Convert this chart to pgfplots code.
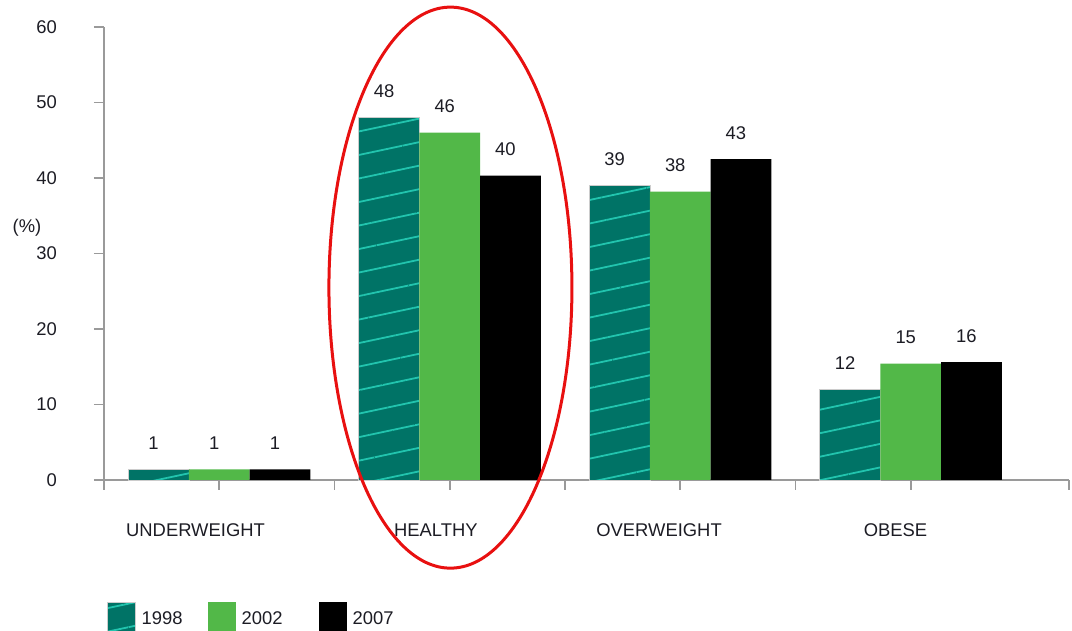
\documentclass[border=0pt]{standalone}
\usepackage{pgfplots}
\pgfplotsset{compat=1.18}
\usepackage{fontspec}
\setmainfont{Liberation Sans}
\usetikzlibrary{patterns.meta}

\definecolor{tealbar}{HTML}{007366}
\definecolor{tealline}{HTML}{22C4AE}
\definecolor{greenbar}{HTML}{52B848}
\definecolor{axisgray}{HTML}{9A9A9A}
\definecolor{txt}{HTML}{1C1C24}
\definecolor{ringred}{HTML}{E81010}

\begin{document}
\begin{tikzpicture}
\begin{axis}[
  at={(0,0)}, anchor=south west,
  scale only axis,
  width=482.5pt, height=226.5pt,
  xmin=-0.5, xmax=3.6866,
  ymin=0, ymax=60,
  clip=false,
  ybar=0pt, bar width=0.2633,
  axis x line=bottom, axis y line=left,
  axis line style={-, draw=axisgray, line width=0.9pt},
  tick style={draw=axisgray, line width=0.9pt},
  tick align=outside,
  major tick length=5pt,
  xtick={-0.5,0,0.5,1,1.5,2,2.5,3,3.6866},
  xticklabels={},
  extra x ticks={-0.103,0.940,1.908,2.934},
  extra x tick labels={UNDERWEIGHT,HEALTHY,OVERWEIGHT,OBESE},
  extra x tick style={major tick length=0pt,
    tick label style={yshift=-18.5pt}},
  ytick={0,10,20,30,40,50,60},
  yticklabel style={anchor=east, xshift=-15pt},
  ticklabel style={font=\fontsize{9.2}{10}\selectfont, text=txt},
  /pgf/number format/assume math mode=true,
  nodes near coords={\pgfmathprintnumber[fixed,precision=0]{\pgfplotspointmeta}},
  every node near coord/.append style={anchor=base, yshift=10pt, xshift=-2.5pt,
    font=\fontsize{9.2}{10}\selectfont, text=txt},
  legend columns=3,
  legend style={draw=none, fill=none, inner sep=0pt, outer sep=0pt,
    at={(axis description cs:0.0031,-0.2693)}, anchor=north west,
    nodes={inner sep=0pt}, font=\fontsize{9.2}{10}\selectfont, text=txt},
  legend image code/.code={
    \fill[#1, draw=none] (0pt,-6.3pt) rectangle (14pt,8.7pt);
    \path (17pt,0pt);
  },
]
% 1998: teal with shallow light hatching
\addplot[fill=tealbar, draw=gray!40, line width=0.3pt,
  postaction={pattern={Lines[angle=12,distance=11.5pt,line width=0.9pt]},
              pattern color=tealline}]
  coordinates {(0,1.4) (1,48) (2,39) (3,12)};
\addlegendentry{\makebox[33pt][l]{1998}}
% 2002
\addplot[fill=greenbar, draw=none]
  coordinates {(0,1.4) (1,46) (2,38.2) (3,15.4)};
\addlegendentry{\makebox[38.5pt][l]{2002}}
% 2007
\addplot[fill=black, draw=none]
  coordinates {(0,1.4) (1,40.3) (2,42.5) (3,15.6)};
\addlegendentry{2007}

\node[font=\fontsize{9.2}{10}\selectfont, text=txt]
  at (axis description cs:-0.0798,0.5563) {(\%)};

% ring round the HEALTHY group
\draw[ringred, line width=1.5pt] (axis cs:1.003,25.48)
  ellipse [x radius=60.75pt, y radius=140.25pt];
\end{axis}
\pgfresetboundingbox
\path[use as bounding box] (-52pt,-75.5pt) rectangle (484pt,240pt);
\end{tikzpicture}
\end{document}
